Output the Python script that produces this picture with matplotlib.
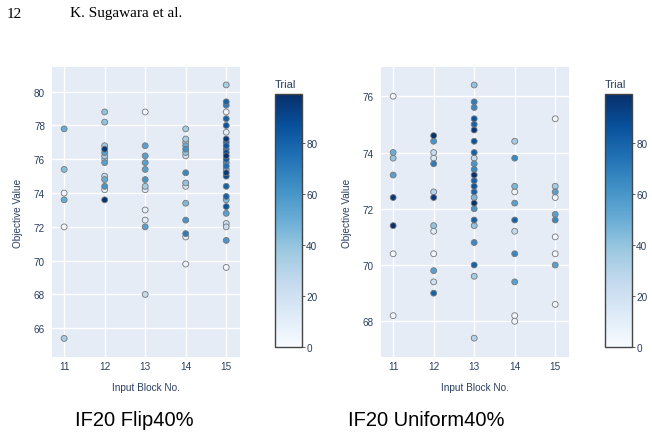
import matplotlib
matplotlib.use("Agg")
import matplotlib.pyplot as plt
import numpy as np
from matplotlib.colors import Normalize

# ---------------- data ----------------
flip_block = [11]*6 + [12]*13 + [13]*12 + [14]*15 + [15]*28
flip_value = [77.8, 75.4, 74.0, 73.6, 72.0, 65.4,
              78.8, 78.2, 76.8, 76.6, 76.4, 76.2, 76.0, 75.8, 75.0, 74.8, 74.4, 74.2, 73.6,
              78.8, 76.8, 76.2, 75.8, 75.4, 74.8, 74.4, 74.2, 73.0, 72.4, 72.0, 68.0,
              77.8, 77.2, 77.0, 76.8, 76.6, 76.4, 76.2, 75.2, 74.6, 74.4, 73.4, 72.4, 71.6, 71.4, 69.8,
              80.4, 79.4, 79.2, 78.8, 78.4, 78.0, 77.6, 77.2, 77.0, 76.8, 76.6, 76.4, 76.2, 76.0,
              75.8, 75.6, 75.4, 75.2, 75.0, 74.4, 73.8, 73.6, 73.2, 72.8, 72.2, 72.0, 71.2, 69.6]
flip_trial = [50, 42, 3, 50, 2, 35,
              40, 40, 35, 95, 55, 35, 30, 55, 25, 50, 60, 10, 98,
              3, 55, 55, 55, 55, 60, 35, 10, 8, 10, 55, 25,
              35, 35, 30, 50, 62, 40, 20, 65, 40, 15, 45, 60, 70, 10, 5,
              35, 80, 70, 5, 80, 85, 10, 95, 80, 85, 75, 90, 98, 85,
              60, 75, 45, 95, 90, 80, 80, 45, 85, 55, 20, 25, 60, 3]

unif_block = [11]*8 + [12]*13 + [13]*24 + [14]*11 + [15]*10
unif_value = [76.0, 74.0, 73.8, 73.2, 72.4, 71.4, 70.4, 68.2,
              74.6, 74.4, 74.0, 73.8, 73.6, 72.6, 72.4, 71.4, 71.2, 70.4, 69.8, 69.4, 69.0,
              76.4, 75.8, 75.6, 75.2, 75.0, 74.8, 74.4, 74.0, 73.8, 73.6, 73.4, 73.2,
              73.0, 72.8, 72.6, 72.4, 72.2, 72.0, 71.6, 71.4, 70.8, 70.0, 69.6, 67.4,
              74.4, 73.8, 72.8, 72.6, 72.2, 71.6, 71.2, 70.4, 69.4, 68.2, 68.0,
              75.2, 72.8, 72.6, 72.4, 71.8, 71.6, 71.0, 70.4, 70.0, 68.6]
unif_trial = [2, 50, 40, 55, 95, 98, 3, 2,
              98, 60, 25, 15, 70, 30, 95, 40, 10, 3, 55, 20, 80,
              40, 70, 65, 85, 80, 95, 85, 80, 25, 60, 65, 98,
              80, 85, 80, 45, 98, 60, 80, 40, 65, 80, 35, 30,
              35, 65, 45, 5, 55, 80, 25, 65, 55, 3, 3,
              3, 35, 55, 5, 55, 65, 3, 3, 55, 3]

x_ticks = [11, 12, 13, 14, 15]
flip_yticks = [66, 68, 70, 72, 74, 76, 78, 80]
unif_yticks = [68, 70, 72, 74, 76]
cbar_ticks = [0, 20, 40, 60, 80]
titles = ["IF20 Flip40%", "IF20 Uniform40%"]

# ---------------- style ----------------
W, H = 652, 439
FONT = "Liberation Sans"
TXT = "#2a3f5f"
BG = "#E5ECF6"
cmap = plt.get_cmap("Blues")
norm = Normalize(vmin=0, vmax=99)

fig = plt.figure(figsize=(W/100, H/100), dpi=100)
fig.patch.set_facecolor("white")

def px(l, t, w, h):
    return [l/W, 1 - (t+h)/H, w/W, h/H]

def panel(ax_rect, cb_rect, blocks, values, trials, yticks, ylim, title, title_x):
    ax = fig.add_axes(px(*ax_rect))
    ax.set_facecolor(BG)
    for s in ax.spines.values():
        s.set_visible(False)
    order = np.argsort(trials, kind="stable")
    b = np.array(blocks)[order]
    v = np.array(values)[order]
    t = np.array(trials)[order]
    ax.scatter(b, v, c=t, cmap=cmap, norm=norm, s=18, edgecolors="#777777",
               linewidths=0.6, zorder=3)
    ax.set_xlim(10.7, 15.34)
    ax.set_ylim(*ylim)
    ax.set_xticks(x_ticks)
    ax.set_yticks(yticks)
    ax.grid(True, color="white", linewidth=1.0)
    ax.set_axisbelow(True)
    ax.tick_params(axis="y", length=0, labelsize=7.2, labelcolor=TXT, pad=5)
    ax.tick_params(axis="x", length=0, labelsize=7.2, labelcolor=TXT, pad=3)
    for lab in ax.get_xticklabels() + ax.get_yticklabels():
        lab.set_fontfamily(FONT)
    ax.set_xlabel("Input Block No.", fontsize=7.2, color=TXT, family=FONT, labelpad=8)
    ax.set_ylabel("Objective Value", fontsize=7.2, color=TXT, family=FONT, labelpad=8)

    cax = fig.add_axes(px(*cb_rect))
    sm = plt.cm.ScalarMappable(cmap=cmap, norm=norm)
    cb = fig.colorbar(sm, cax=cax, ticks=cbar_ticks)
    cb.outline.set_edgecolor("#444444")
    cb.outline.set_linewidth(1.0)
    cax.tick_params(length=2, width=0.6, color="#444444", labelsize=7.2, labelcolor=TXT, pad=1)
    for lab in cax.get_yticklabels():
        lab.set_fontfamily(FONT)
    cax.text(0, 1.02, "Trial", transform=cax.transAxes, ha="left", va="bottom",
             fontsize=8, color=TXT, family=FONT)

    fig.text(title_x/W, 1 - 421/H, title, ha="center", va="center",
             fontsize=14.5, color="black", family=FONT)

panel((52, 68, 188, 290), (275, 95, 27, 253), flip_block, flip_value, flip_trial,
      flip_yticks, (64.3, 81.46), titles[0], 134)
panel((381, 68, 188, 290), (605, 95, 27, 253), unif_block, unif_value, unif_trial,
      unif_yticks, (66.73, 77.04), titles[1], 426)

fig.text(7/W, 1 - 14/H, "12", ha="left", va="center", fontsize=11,
         family="Liberation Serif", color="black")
fig.text(70/W, 1 - 14/H, "K. Sugawara et al.", ha="left", va="center", fontsize=11,
         family="Liberation Serif", color="black")

fig.savefig("out.png", dpi=100)
